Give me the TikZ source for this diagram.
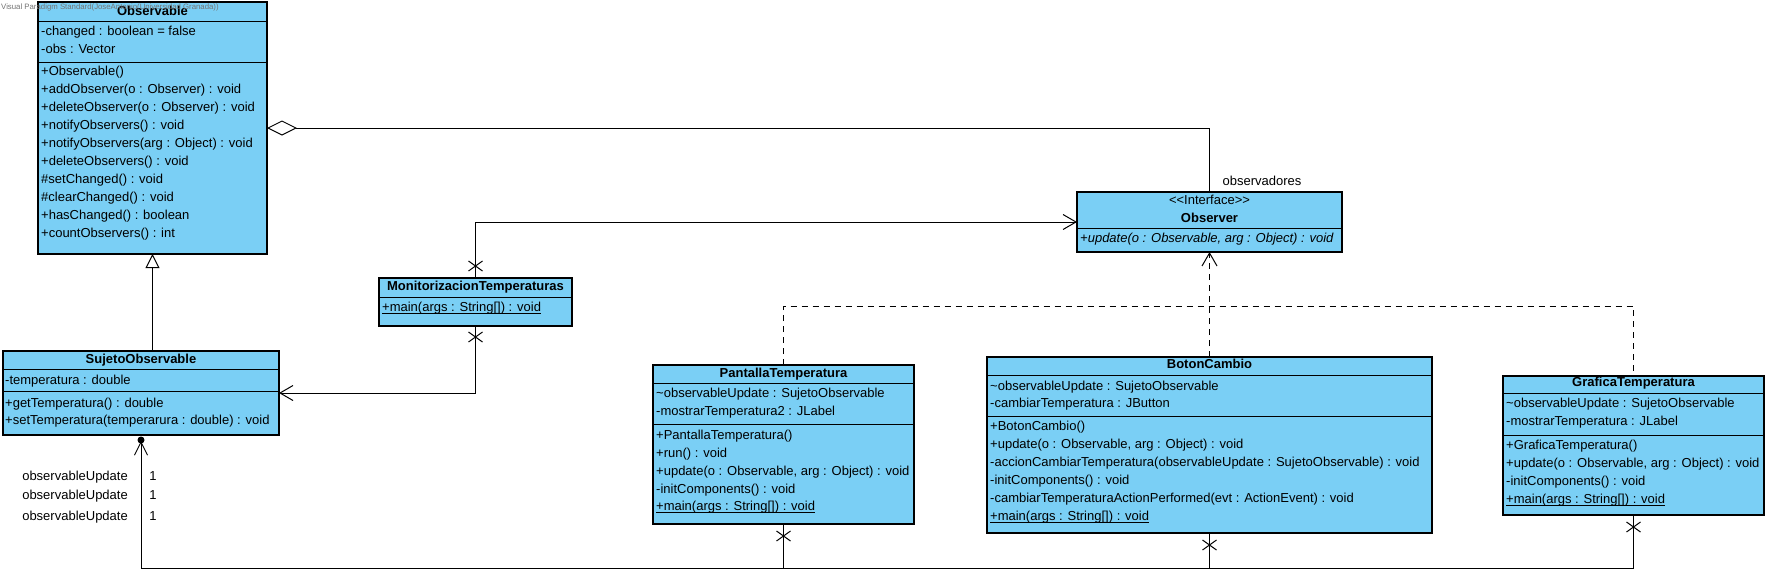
\documentclass[tikz,border=0pt]{standalone}
\usepackage{fontspec}
\setmainfont{Liberation Sans}
\usetikzlibrary{arrows.meta,calc}
\definecolor{umlblue}{RGB}{122,207,245}
\newcommand{\fs}{\fontsize{13}{15}\selectfont}
\newcommand{\sepline}[2]{\draw[sepl] ($(#1.north west)+(0,#2)$) -- ($(#1.north east)+(0,#2)$);}
\newcommand{\ulstatic}[1]{\underline{\smash{#1}}}
\begin{document}
\begin{tikzpicture}[x=1pt,y=-1pt,
  cls/.style={draw=black, line width=1.2pt, fill=umlblue, inner sep=0pt, outer sep=0pt, anchor=north west},
  sepl/.style={line width=1pt},
  mem/.style={anchor=mid west, inner sep=0pt, font=\fs},
  ttl/.style={anchor=mid, inner sep=0pt, font=\fs\bfseries},
  lbl/.style={inner sep=0pt, font=\fs},
  conn/.style={line width=1pt},
  dashline/.style={line width=1pt, dash pattern=on 6pt off 5pt},
  openarrow/.style={-{Straight Barb[length=13pt,width=15pt]}},
  xm/.pic={\draw[line width=1pt] (-7,-5) -- (7,5) (-7,5) -- (7,-5);}
]
\useasboundingbox (0,0) rectangle (1769,587);

% ---------- Observable ----------
\node[cls, minimum width=229pt, minimum height=252pt] (observable) at (38,2) {};
\sepline{observable}{19}
\sepline{observable}{60}
\node[ttl] (observable-t) at ($(observable.north)+(0,11)$) {Observable};
\node[mem] (observable-a1) at (41,33) {-changed : boolean = false};
\node[mem] (observable-a2) at (41,51) {-obs : Vector};
\node[mem] (observable-m1) at (41,73) {+Observable()};
\node[mem] (observable-m2) at (41,91) {+addObserver(o : Observer) : void};
\node[mem] (observable-m3) at (41,109) {+deleteObserver(o : Observer) : void};
\node[mem] (observable-m4) at (41,127) {+notifyObservers() : void};
\node[mem] (observable-m5) at (41,145) {+notifyObservers(arg : Object) : void};
\node[mem] (observable-m6) at (41,163) {+deleteObservers() : void};
\node[mem] (observable-m7) at (41,181) {\#setChanged() : void};
\node[mem] (observable-m8) at (41,199) {\#clearChanged() : void};
\node[mem] (observable-m9) at (41,217) {+hasChanged() : boolean};
\node[mem] (observable-m10) at (41,235) {+countObservers() : int};

% ---------- SujetoObservable ----------
\node[cls, minimum width=276pt, minimum height=84pt] (sujeto) at (3,351) {};
\sepline{sujeto}{18}
\sepline{sujeto}{40}
\node[ttl] (sujeto-t) at ($(sujeto.north)+(0,10)$) {SujetoObservable};
\node[mem] (sujeto-a1) at (5,382) {-temperatura : double};
\node[mem] (sujeto-m1) at (5,405) {+getTemperatura() : double};
\node[mem] (sujeto-m2) at (5,422) {+setTemperatura(temperarura : double) : void};

% ---------- MonitorizacionTemperaturas ----------
\node[cls, minimum width=193pt, minimum height=48pt] (monit) at (379,278) {};
\sepline{monit}{19}
\node[ttl] (monit-t) at ($(monit.north)+(0,10)$) {MonitorizacionTemperaturas};
\node[mem] (monit-m1) at (382,309) {\ulstatic{+main(args : String[]) : void}};

% ---------- Observer ----------
\node[cls, minimum width=265pt, minimum height=60pt] (observer) at (1077,192) {};
\sepline{observer}{36}
\node[lbl, anchor=mid] (observer-s) at ($(observer.north)+(0,10)$) {{<}{<}Interface{>}{>}};
\node[ttl] (observer-t) at ($(observer.north)+(0,28)$) {Observer};
\node[mem] (observer-m1) at (1080,240) {\itshape +update(o : Observable, arg : Object) : void};

% ---------- PantallaTemperatura ----------
\node[cls, minimum width=261pt, minimum height=159pt] (pantalla) at (653,365) {};
\sepline{pantalla}{18}
\sepline{pantalla}{59}
\node[ttl] (pantalla-t) at ($(pantalla.north)+(0,10)$) {PantallaTemperatura};
\node[mem] (pantalla-a1) at (656,395) {\textasciitilde observableUpdate : SujetoObservable};
\node[mem] (pantalla-a2) at (656,413) {-mostrarTemperatura2 : JLabel};
\node[mem] (pantalla-m1) at (656,437) {+PantallaTemperatura()};
\node[mem] (pantalla-m2) at (656,455) {+run() : void};
\node[mem] (pantalla-m3) at (656,473) {+update(o : Observable, arg : Object) : void};
\node[mem] (pantalla-m4) at (656,491) {-initComponents() : void};
\node[mem] (pantalla-m5) at (656,508) {\ulstatic{+main(args : String[]) : void}};

% ---------- BotonCambio ----------
\node[cls, minimum width=445pt, minimum height=176pt] (boton) at (987,357) {};
\sepline{boton}{18}
\sepline{boton}{59}
\node[ttl] (boton-t) at ($(boton.north)+(0,9)$) {BotonCambio};
\node[mem] (boton-a1) at (990,388) {\textasciitilde observableUpdate : SujetoObservable};
\node[mem] (boton-a2) at (990,405) {-cambiarTemperatura : JButton};
\node[mem] (boton-m1) at (990,428) {+BotonCambio()};
\node[mem] (boton-m2) at (990,446) {+update(o : Observable, arg : Object) : void};
\node[mem] (boton-m3) at (990,464) {-accionCambiarTemperatura(observableUpdate : SujetoObservable) : void};
\node[mem] (boton-m4) at (990,482) {-initComponents() : void};
\node[mem] (boton-m5) at (990,500) {-cambiarTemperaturaActionPerformed(evt : ActionEvent) : void};
\node[mem] (boton-m6) at (990,518) {\ulstatic{+main(args : String[]) : void}};

% ---------- GraficaTemperatura ----------
\node[cls, minimum width=261pt, minimum height=139pt] (grafica) at (1503,376) {};
\sepline{grafica}{17}
\sepline{grafica}{59}
\node[ttl] (grafica-t) at ($(grafica.north)+(0,8)$) {GraficaTemperatura};
\node[mem] (grafica-a1) at (1506,405) {\textasciitilde observableUpdate : SujetoObservable};
\node[mem] (grafica-a2) at (1506,423) {-mostrarTemperatura : JLabel};
\node[mem] (grafica-m1) at (1506,447) {+GraficaTemperatura()};
\node[mem] (grafica-m2) at (1506,465) {+update(o : Observable, arg : Object) : void};
\node[mem] (grafica-m3) at (1506,483) {-initComponents() : void};
\node[mem] (grafica-m4) at (1506,501) {\ulstatic{+main(args : String[]) : void}};

% ---------- watermark ----------
\node[anchor=mid west, inner sep=0pt, text=black!55, font=\fontsize{7.8}{9}\selectfont] (wm) at (1,7) {Visual Paradigm Standard(JoseAntonio(Universidad Granada))};

% ---------- connectors ----------
% aggregation Observable <>-- Observer
\draw[conn, {Diamond[open,length=30pt,width=15pt]}-] (observable.east) -| (observer.north);
\node[lbl, anchor=mid] (obsv-lbl) at (1262,183) {observadores};

% generalization
\draw[conn, -{Triangle[open,length=14pt,width=14pt]}] (sujeto.north -| observable.south) -- (observable.south);

% MonitorizacionTemperaturas -> Observer
\draw[conn, openarrow] (monit.north) |- (observer.west);
\pic at ($(monit.north)+(0,-12)$) {xm};
% MonitorizacionTemperaturas -> SujetoObservable
\draw[conn, openarrow] (monit.south) |- (sujeto.east);
\pic at ($(monit.south)+(0,11)$) {xm};

% realizations
\coordinate (dashy) at (0,306);
\draw[dashline, -{Straight Barb[length=13pt,width=15pt]}] (boton.north) -- (observer.south);
\draw[dashline] (pantalla.north) -- (pantalla.north |- dashy) -| (grafica.north);

% associations to SujetoObservable
\coordinate (boty) at (0,568);
\draw[conn, -{Straight Barb[length=13pt,width=13pt]}, shorten >=6pt] (grafica.south) -- (grafica.south |- boty) -| (sujeto.south);
\draw[conn] (pantalla.south) -- (pantalla.south |- boty);
\draw[conn] (boton.south) -- (boton.south |- boty);
\fill ($(sujeto.south)+(0,5)$) circle (3.5);
\pic at ($(pantalla.south)+(0,12)$) {xm};
\pic at ($(boton.south)+(0,12)$) {xm};
\pic at ($(grafica.south)+(0,12)$) {xm};

\node[lbl, anchor=mid east] (ou1) at (128,478) {observableUpdate};
\node[lbl, anchor=mid east] (ou2) at (128,497) {observableUpdate};
\node[lbl, anchor=mid east] (ou3) at (128,518) {observableUpdate};
\node[lbl, anchor=mid] (m1) at (153,478) {1};
\node[lbl, anchor=mid] (m2) at (153,497) {1};
\node[lbl, anchor=mid] (m3) at (153,518) {1};
\end{tikzpicture}
\end{document}
